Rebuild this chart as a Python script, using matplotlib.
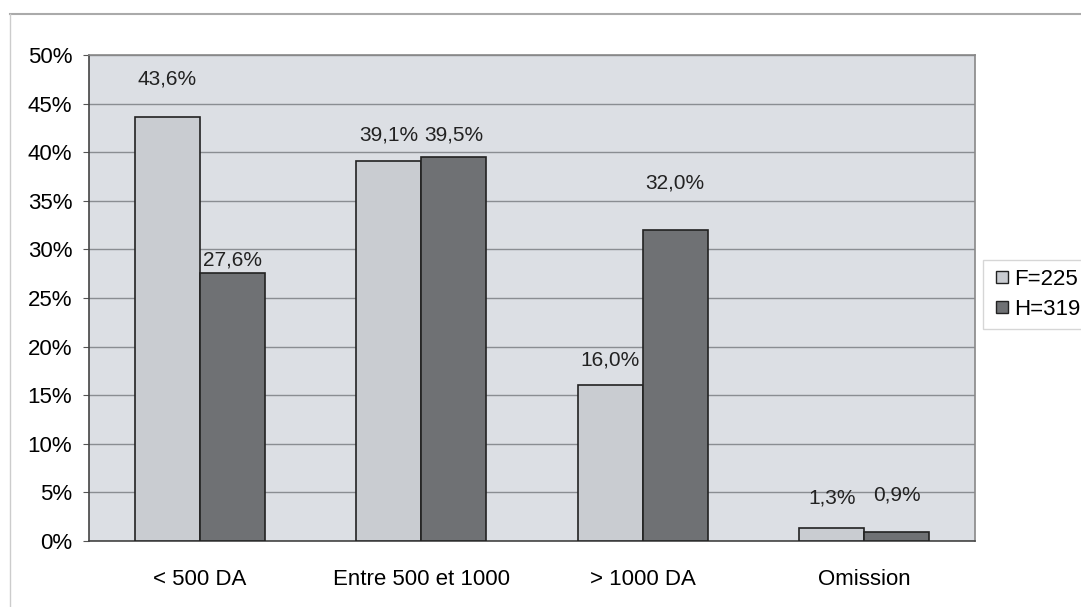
import numpy as np
import matplotlib.pyplot as plt
from matplotlib.lines import Line2D

categories = ["< 500 DA", "Entre 500 et 1000", "> 1000 DA", "Omission"]
femmes = [43.6, 39.1, 16.0, 1.3]
hommes = [27.6, 39.5, 32.0, 0.9]
series_names = ["F=225", "H=319"]

# how far above each bar its label sits (in % units)
lift_f = [3.9, 2.7, 2.6, 3.1]
lift_h = [1.3, 2.3, 4.8, 3.8]

plt.rcParams['font.family'] = ['Liberation Sans', 'DejaVu Sans']

fig = plt.figure(figsize=(10.81, 6.07), dpi=100)
ax = fig.add_axes([0.0823, 0.1087, 0.8196, 0.8007])
ax.set_facecolor('#dcdfe4')

x = np.arange(len(categories))
w = 0.293
col_f = '#c9ccd1'
col_h = '#6f7174'

bars_f = ax.bar(x - w / 2, femmes, w, color=col_f, edgecolor='#222222', linewidth=1.2, zorder=3)
bars_h = ax.bar(x + w / 2, hommes, w, color=col_h, edgecolor='#222222', linewidth=1.2, zorder=3)

for b, v, d in zip(bars_f, femmes, lift_f):
    ax.text(b.get_x() + b.get_width() / 2, v + d, f"{v:.1f}%".replace('.', ','),
            ha='center', va='center', fontsize=15, color='#222222', zorder=4)
for b, v, d in zip(bars_h, hommes, lift_h):
    ax.text(b.get_x() + b.get_width() / 2, v + d, f"{v:.1f}%".replace('.', ','),
            ha='center', va='center', fontsize=15, color='#222222', zorder=4)

ax.set_xlim(-0.5, 3.5)
ax.set_ylim(0, 50)
ax.set_yticks(range(0, 51, 5))
ax.set_yticklabels([f"{t}%" for t in range(0, 51, 5)])
ax.set_xticks(x)
ax.set_xticklabels(categories)
ax.tick_params(axis='y', labelsize=16, length=4, color='#555555', pad=8)
ax.tick_params(axis='x', labelsize=16, length=0, pad=20)
ax.grid(axis='y', color='#8a8d92', linewidth=1.0, zorder=1)

for s in ax.spines.values():
    s.set_color('#888888')
    s.set_linewidth(1.2)
ax.spines['left'].set_color('#444444')
ax.spines['bottom'].set_color('#444444')

handles = [Line2D([], [], marker='s', linestyle='none', markersize=9,
                  markerfacecolor=c, markeredgecolor='#222222') for c in (col_f, col_h)]
fig.legend(handles, series_names, loc='center left', bbox_to_anchor=(0.909, 0.515),
           fontsize=16, frameon=True, edgecolor='#cccccc', fancybox=False,
           handletextpad=0.1, borderpad=0.4, labelspacing=0.4, handlelength=0.9,
           borderaxespad=0.0)

# light chart frame
fig.add_artist(Line2D([0.009, 1.0], [0.977, 0.977], color='#aaaaaa', linewidth=1.5))
fig.add_artist(Line2D([0.009, 0.009], [0.0, 0.977], color='#cccccc', linewidth=1.0))

fig.savefig('out.png', dpi=100)
